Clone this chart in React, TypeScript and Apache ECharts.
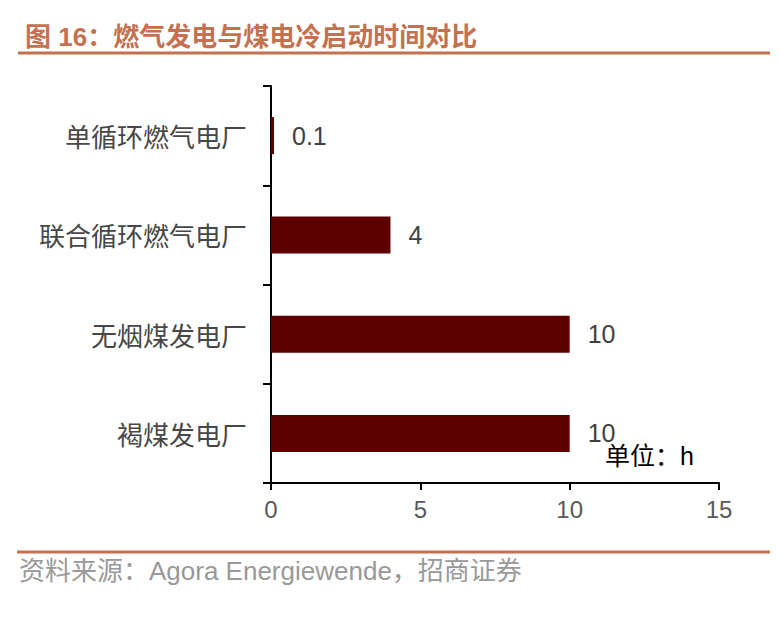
import { useEffect, useRef } from 'react'
import * as echarts from 'echarts'

const categories = ['褐煤发电厂', '无烟煤发电厂', '联合循环燃气电厂', '单循环燃气电厂']
const hours = [10, 10, 4, 0.1]
const xTicks = [0, 5, 10, 15]

const TITLE = '图 16：燃气发电与煤电冷启动时间对比'
const SOURCE = '资料来源：Agora Energiewende，招商证券'
const UNIT = '单位：h'

const CJK = '"Noto Sans CJK SC", "Noto Sans", sans-serif'
const LATIN = '"Liberation Sans", Arial, sans-serif'
const MIXED = '"Liberation Sans", "Noto Sans CJK SC", sans-serif'

export default function App() {
  const chartRef = useRef<HTMLDivElement>(null)

  useEffect(() => {
    if (!chartRef.current) return
    const chart = echarts.init(chartRef.current, undefined, { renderer: 'svg' })

    const option: echarts.EChartsOption = {
      animation: false,
      backgroundColor: '#ffffff',
      title: {
        text: TITLE,
        left: 20,
        top: 19,
        textStyle: {
          fontFamily: MIXED,
          fontSize: 26,
          fontWeight: 'bold',
          color: '#c4714f',
        },
      },
      grid: {
        left: 271,
        right: 61,
        top: 86,
        bottom: 136,
      },
      xAxis: {
        type: 'value',
        min: xTicks[0],
        max: xTicks[xTicks.length - 1],
        interval: 5,
        axisLine: { show: true, lineStyle: { color: '#000', width: 2 } },
        axisTick: { show: true, length: 7, lineStyle: { color: '#000', width: 2 } },
        axisLabel: {
          color: '#595959',
          fontSize: 24,
          fontFamily: LATIN,
          margin: 14,
        },
        splitLine: { show: false },
      },
      yAxis: {
        type: 'category',
        data: categories,
        axisLine: { show: true, lineStyle: { color: '#000', width: 2 } },
        axisTick: { show: true, length: 8, lineStyle: { color: '#000', width: 2 } },
        axisLabel: {
          color: '#474747',
          fontSize: 26,
          fontFamily: CJK,
          margin: 24,
        },
      },
      series: [
        {
          type: 'bar',
          data: hours,
          barWidth: 37,
          itemStyle: { color: '#5e0000' },
          label: {
            show: true,
            position: 'right',
            distance: 18,
            color: '#404040',
            fontSize: 25,
            fontFamily: LATIN,
          },
        },
      ],
      graphic: [
        {
          type: 'line',
          shape: { x1: 18, y1: 53, x2: 770, y2: 53 },
          style: { stroke: '#c4714f', lineWidth: 3 },
        },
        {
          type: 'line',
          shape: { x1: 17, y1: 552, x2: 770, y2: 552 },
          style: { stroke: '#c4714f', lineWidth: 3 },
        },
        {
          type: 'text',
          left: 605,
          top: 443,
          style: {
            text: UNIT,
            fill: '#000',
            font: `25px ${MIXED}`,
          },
        },
        {
          type: 'text',
          left: 19,
          top: 558,
          style: {
            text: SOURCE,
            fill: '#999999',
            font: `26px ${MIXED}`,
          },
        },
      ],
    }

    chart.setOption(option)

    return () => {
      chart.dispose()
    }
  }, [])

  return (
    <div
      ref={chartRef}
      style={{ position: 'fixed', left: 0, top: 0, width: 780, height: 619 }}
    />
  )
}
